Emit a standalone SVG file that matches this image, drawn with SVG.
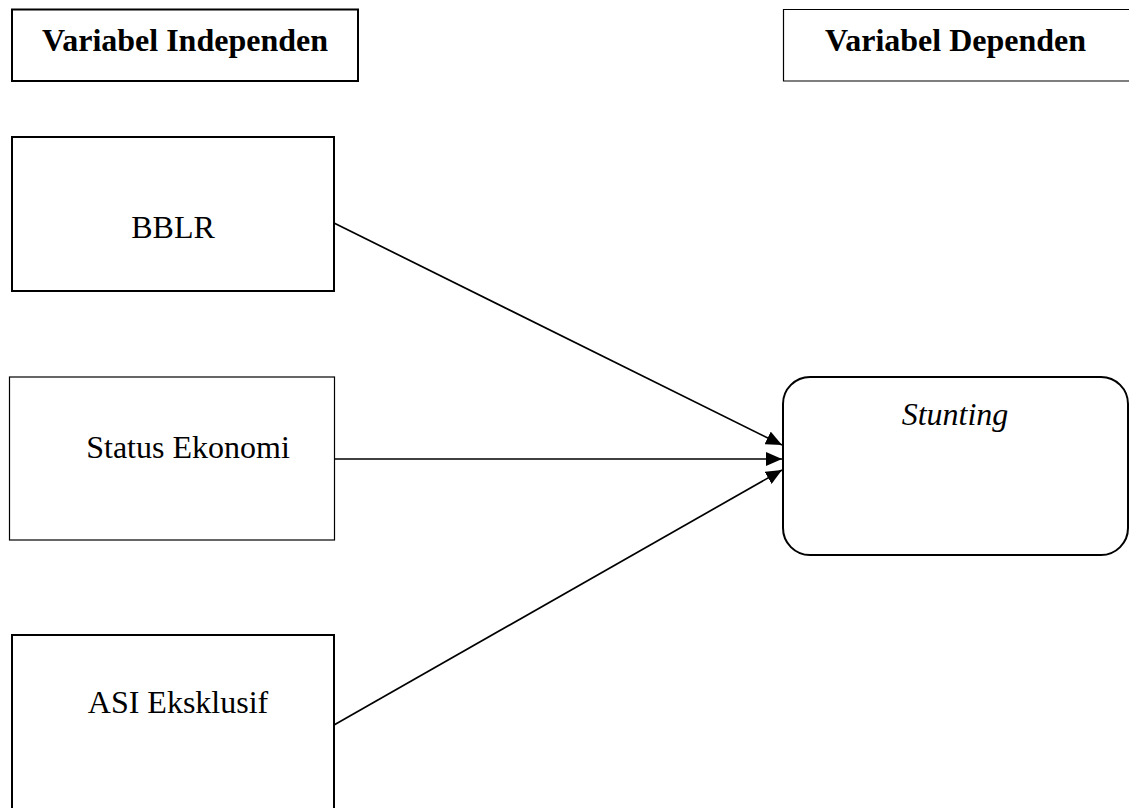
<svg xmlns="http://www.w3.org/2000/svg" width="1129" height="808" viewBox="0 0 1129 808">
<style>
.box{fill:#fff;stroke:#000;stroke-width:2}
.thin{stroke-width:1.2}
.t{font-family:"Liberation Serif","Times New Roman",serif;font-size:32px;fill:#000}
.b{font-weight:bold}
.i{font-style:italic}
.c{fill:none;stroke:#000;stroke-width:1.7}
</style>
<defs>
<marker id="ah" markerUnits="userSpaceOnUse" markerWidth="16" markerHeight="14" refX="16" refY="7" orient="auto">
<path d="M0,0 L16,7 L0,14 Z" fill="#000"/>
</marker>
</defs>
<rect width="1129" height="808" fill="#fff"/>
<g id="header-independen">
<rect class="box" x="12" y="9.5" width="346" height="71.5"/>
<text class="t b" x="42" y="51">Variabel Independen</text>
</g>
<g id="header-dependen">
<path class="box thin" d="M1131,9.5 H783.5 V81 H1131"/>
<text class="t b" x="825" y="51">Variabel Dependen</text>
</g>
<g id="bblr">
<rect class="box" x="12" y="137" width="322" height="154"/>
<text class="t" x="173" y="238" text-anchor="middle">BBLR</text>
</g>
<g id="status-ekonomi">
<rect class="box thin" x="9.5" y="377" width="325" height="163"/>
<text class="t" x="188" y="458" text-anchor="middle">Status Ekonomi</text>
</g>
<g id="asi-eksklusif">
<rect class="box" x="12" y="635" width="322" height="190"/>
<text class="t" x="178" y="713" text-anchor="middle">ASI Eksklusif</text>
</g>
<g id="stunting">
<rect class="box" x="783" y="377" width="345" height="178" rx="27" ry="27"/>
<text class="t i" x="955" y="425" text-anchor="middle">Stunting</text>
</g>
<g id="connectors">
<line class="c" x1="334" y1="223" x2="782" y2="445" marker-end="url(#ah)"/>
<line class="c" x1="335" y1="459" x2="782" y2="459" marker-end="url(#ah)"/>
<line class="c" x1="334" y1="725" x2="782" y2="470" marker-end="url(#ah)"/>
</g>
</svg>
